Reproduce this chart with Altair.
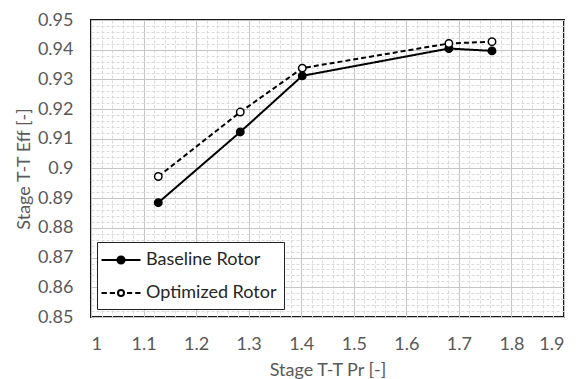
import altair as alt
import pandas as pd

# Stage total-to-total pressure ratio and efficiency for the two rotors
pressure_ratio = [1.128, 1.284, 1.402, 1.681, 1.763]
eff_baseline = [0.8885, 0.9123, 0.9312, 0.9404, 0.9396]
eff_optimized = [0.8973, 0.9190, 0.9338, 0.9421, 0.9427]
series_names = ["Baseline Rotor", "Optimized Rotor"]

# Axis ticks: major every 0.1 / 0.01, minor grid every 0.02 / 0.002
x_ticks = [round(1.0 + 0.02 * i, 2) for i in range(46)]
y_ticks = [round(0.85 + 0.002 * i, 3) for i in range(51)]

rows = []
for name, effs in zip(series_names, [eff_baseline, eff_optimized]):
    for pr, eff in zip(pressure_ratio, effs):
        rows.append({"series": name, "pr": pr, "eff": eff})
df = pd.DataFrame(rows)

FONT = "Lato"
TICK_GRAY = "#595959"

x_major = "abs(datum.value*10 - round(datum.value*10)) < 1e-6"
y_major = "abs(datum.value*100 - round(datum.value*100)) < 1e-6"

x_axis = alt.Axis(
    values=x_ticks,
    labelExpr=f"{x_major} ? format(datum.value, '~g') : ''",
    labelOverlap=False,
    labelFontSize=18,
    labelColor=TICK_GRAY,
    labelPadding=18,
    ticks=False,
    domain=False,
    grid=True,
    gridColor={"condition": {"test": x_major, "value": "#c6c6c6"}, "value": "#dadada"},
    gridDash={"condition": {"test": x_major, "value": []}, "value": [3, 2]},
    gridWidth=1,
    title="Stage T-T Pr [-]",
    titleFontSize=18,
    titleFontWeight="normal",
    titleColor=TICK_GRAY,
    titlePadding=8,
)

y_axis = alt.Axis(
    values=y_ticks,
    labelExpr=f"{y_major} ? format(datum.value, '~g') : ''",
    labelOverlap=False,
    labelFontSize=18,
    labelColor=TICK_GRAY,
    labelPadding=18,
    ticks=False,
    domain=False,
    grid=True,
    gridColor={"condition": {"test": y_major, "value": "#c6c6c6"}, "value": "#dadada"},
    gridDash={"condition": {"test": y_major, "value": []}, "value": [3, 2]},
    gridWidth=1,
    title="Stage T-T Eff [-]",
    titleFontSize=18,
    titleFontWeight="normal",
    titleColor=TICK_GRAY,
    titlePadding=4,
)

x_enc = alt.X("pr:Q", scale=alt.Scale(domain=[1.0, 1.9], nice=False, zero=False), axis=x_axis)
y_enc = alt.Y("eff:Q", scale=alt.Scale(domain=[0.85, 0.95], nice=False, zero=False), axis=y_axis)

is_base = "datum.series === 'Baseline Rotor'"

# Legend symbols: line with a filled dot, dashed line with a hollow dot
sym_base = "M-1.95 0H1.95M0.36 0A0.36 0.36 0 1 1 -0.36 0A0.36 0.36 0 1 1 0.36 0Z"
sym_opt = ("M-1.95 0H-1.42M-1.12 0H-0.6"
           "M0.6 0H1.12M1.42 0H1.95"
           "M0.3 0A0.3 0.3 0 1 1 -0.3 0A0.3 0.3 0 1 1 0.3 0Z")

legend = alt.Legend(
    title=None,
    orient="none",
    legendX=6,
    legendY=222,
    direction="vertical",
    fillColor="white",
    strokeColor="#222222",
    padding=7,
    rowPadding=13,
    symbolSize=400,
    symbolOffset=6,
    labelOffset=14,
    symbolStrokeWidth=2,
    symbolStrokeColor="black",
    symbolOpacity=1,
    labelFontSize=18,
    labelFont=FONT,
    labelColor="#262626",
    labelLimit=300,
)

lines = alt.Chart(df).mark_line(strokeWidth=2, color="black").encode(
    x=x_enc,
    y=y_enc,
    strokeDash=alt.condition(is_base, alt.value([1, 0]), alt.value([5, 3])),
    detail="series:N",
)

points = alt.Chart(df).mark_point(
    shape="circle", filled=True, size=55, strokeWidth=1.5, stroke="black", opacity=1
).encode(
    x=x_enc,
    y=y_enc,
    fill=alt.condition(is_base, alt.value("black"), alt.value("white")),
)

# Key layer: zero-size marks, it only carries the legend symbols
key = alt.Chart(df).mark_point(
    filled=True, strokeWidth=2, size=0, opacity=1
).encode(
    x=x_enc,
    y=y_enc,
    fill=alt.Fill(
        "series:N",
        scale=alt.Scale(domain=series_names, range=["black", "white"]),
        legend=legend,
    ),
    stroke=alt.Stroke(
        "series:N",
        scale=alt.Scale(domain=series_names, range=["black", "black"]),
        legend=legend,
    ),
    shape=alt.Shape(
        "series:N",
        scale=alt.Scale(domain=series_names, range=[sym_base, sym_opt]),
        legend=legend,
    ),
)

chart = (
    alt.layer(lines, points, key)
    .properties(
        width=473,
        height=297,
        autosize=alt.AutoSizeParams(type="none"),
        padding={"left": 91, "top": 20, "right": 21, "bottom": 62},
        background="white",
    )
    .configure_view(stroke="#1a1a1a", strokeWidth=2)
    .configure_axis(labelFont=FONT, titleFont=FONT)
)

chart.save("out.html", embed_options={"renderer": "svg", "actions": False})
